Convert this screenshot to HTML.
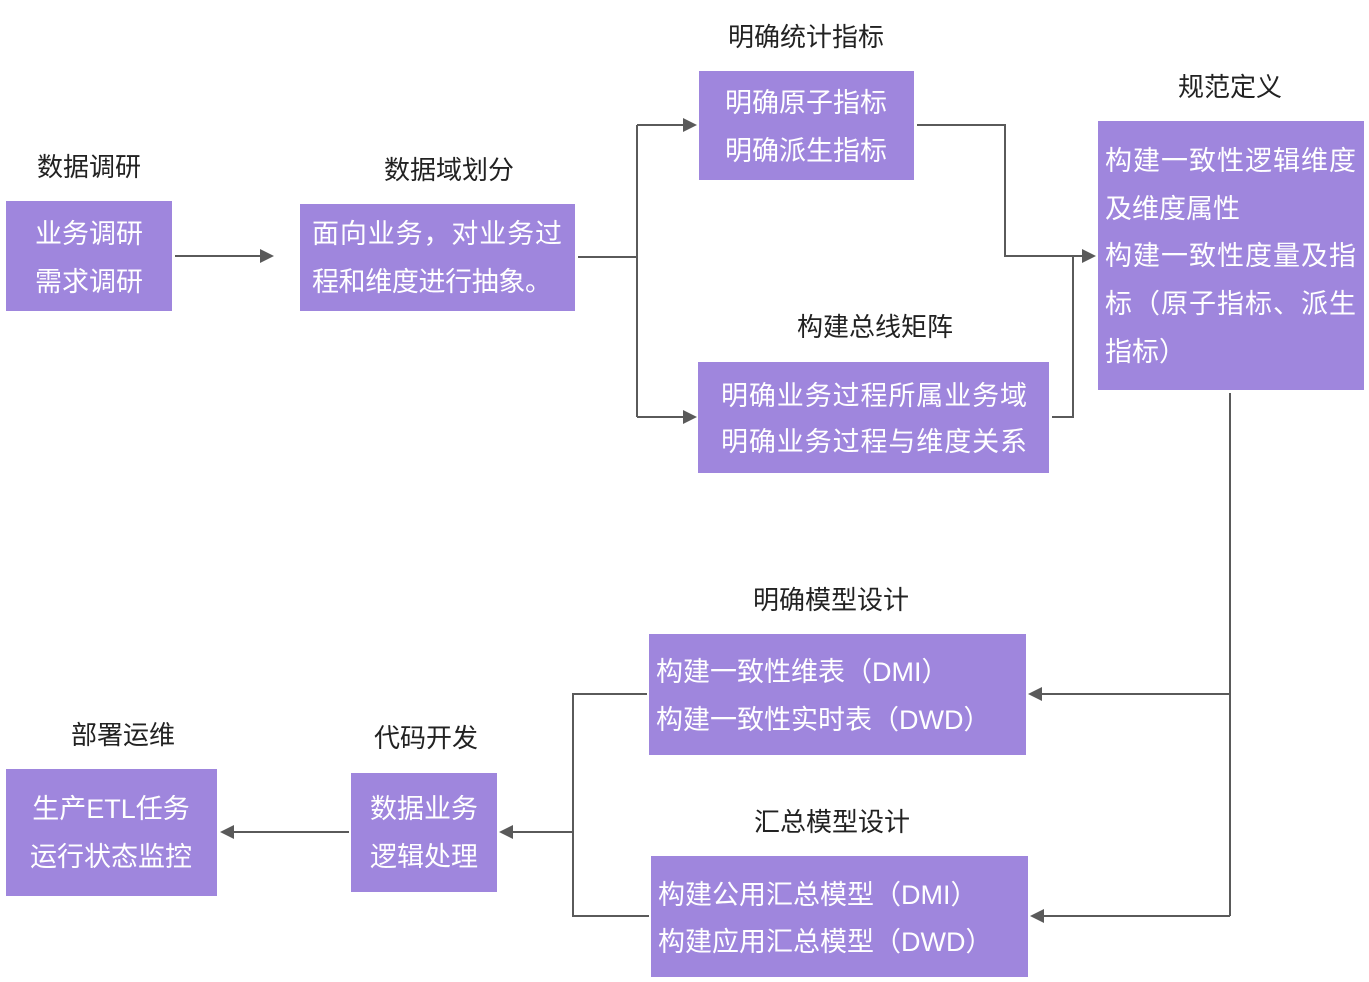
<!DOCTYPE html>
<html><head><meta charset="utf-8"><style>
html,body{margin:0;padding:0;background:#fff;}
svg{display:block;}
text{font-family:"Liberation Sans","Noto Sans CJK SC",sans-serif;}
.b{fill:#9f86dd;}
.t{fill:#fff;font-size:27px;}
.l{fill:#222;font-size:26px;}
.ln{stroke:#5a5a5a;stroke-width:2;fill:none;}
.ar{fill:#5a5a5a;}
</style></head><body>
<svg width="1369" height="982" viewBox="0 0 1369 982">
<!-- boxes -->
<rect class="b" x="6" y="201" width="166" height="110"/>
<rect class="b" x="300" y="204" width="275" height="107"/>
<rect class="b" x="699" y="71" width="215" height="109"/>
<rect class="b" x="698" y="362" width="351" height="111"/>
<rect class="b" x="1098" y="121" width="266" height="269"/>
<rect class="b" x="649" y="634" width="377" height="121"/>
<rect class="b" x="651" y="856" width="377" height="121"/>
<rect class="b" x="351" y="773" width="146" height="119"/>
<rect class="b" x="6" y="769" width="211" height="127"/>

<!-- box texts -->
<text class="t" x="89" y="243" text-anchor="middle">业务调研</text>
<text class="t" x="89" y="291" text-anchor="middle">需求调研</text>
<text class="t" x="312" y="243" textLength="250">面向业务，对业务过</text>
<text class="t" x="312" y="291" textLength="240">程和维度进行抽象。</text>
<text class="t" x="806" y="112" text-anchor="middle">明确原子指标</text>
<text class="t" x="806" y="160" text-anchor="middle">明确派生指标</text>
<text class="t" x="874" y="405" text-anchor="middle" textLength="306">明确业务过程所属业务域</text>
<text class="t" x="874" y="451" text-anchor="middle" textLength="306">明确业务过程与维度关系</text>
<text class="t" x="1105" y="170" textLength="251">构建一致性逻辑维度</text>
<text class="t" x="1105" y="218">及维度属性</text>
<text class="t" x="1105" y="265" textLength="251">构建一致性度量及指</text>
<text class="t" x="1105" y="313" textLength="251">标（原子指标、派生</text>
<text class="t" x="1105" y="361">指标）</text>
<text class="t" x="656" y="681">构建一致性维表（DMI）</text>
<text class="t" x="656" y="729">构建一致性实时表（DWD）</text>
<text class="t" x="658" y="904">构建公用汇总模型（DMI）</text>
<text class="t" x="658" y="951">构建应用汇总模型（DWD）</text>
<text class="t" x="424" y="818" text-anchor="middle">数据业务</text>
<text class="t" x="424" y="866" text-anchor="middle">逻辑处理</text>
<text class="t" x="111" y="818" text-anchor="middle">生产ETL任务</text>
<text class="t" x="111" y="866" text-anchor="middle">运行状态监控</text>

<!-- labels -->
<text class="l" x="89" y="176" text-anchor="middle">数据调研</text>
<text class="l" x="449" y="179" text-anchor="middle">数据域划分</text>
<text class="l" x="806" y="46" text-anchor="middle">明确统计指标</text>
<text class="l" x="1230" y="96" text-anchor="middle">规范定义</text>
<text class="l" x="875" y="336" text-anchor="middle">构建总线矩阵</text>
<text class="l" x="831" y="609" text-anchor="middle">明确模型设计</text>
<text class="l" x="832" y="831" text-anchor="middle">汇总模型设计</text>
<text class="l" x="426" y="747" text-anchor="middle">代码开发</text>
<text class="l" x="123" y="744" text-anchor="middle">部署运维</text>

<!-- connectors -->
<path class="ln" d="M175 256 H262"/>
<polygon class="ar" points="274,256 260,249 260,263"/>
<path class="ln" d="M578 257 H637 M637 125 V417 M637 125 H685 M637 417 H685"/>
<polygon class="ar" points="697,125 683,118 683,132"/>
<polygon class="ar" points="697,417 683,410 683,424"/>
<path class="ln" d="M917 125 H1005 V256 H1084 M1052 417 H1073 V256"/>
<polygon class="ar" points="1096,256 1082,249 1082,263"/>
<path class="ln" d="M1230 393 V916 M1230 694 H1040 M1230 916 H1042"/>
<polygon class="ar" points="1028,694 1042,687 1042,701"/>
<polygon class="ar" points="1030,916 1044,909 1044,923"/>
<path class="ln" d="M647 694 H573 V916 H649 M573 832 H511"/>
<polygon class="ar" points="499,832 513,825 513,839"/>
<path class="ln" d="M349 832 H232"/>
<polygon class="ar" points="220,832 234,825 234,839"/>
</svg>
</body></html>
